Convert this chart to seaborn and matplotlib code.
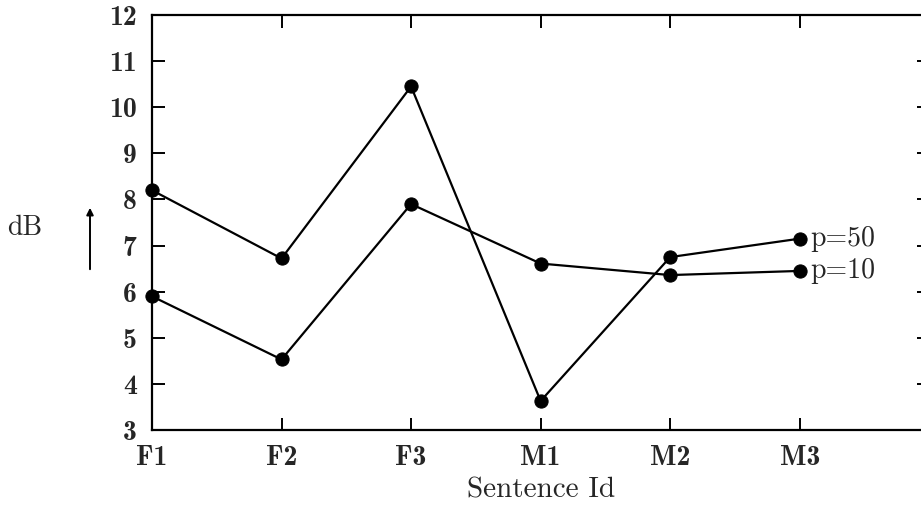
import matplotlib
matplotlib.use("Agg")
import matplotlib.pyplot as plt
import seaborn as sns
import pandas as pd

sentences = ["F1", "F2", "F3", "M1", "M2", "M3"]
db_p50 = [8.2, 6.72, 10.45, 3.63, 6.75, 7.15]
db_p10 = [5.9, 4.53, 7.9, 6.61, 6.36, 6.45]
series_labels = ["p=50", "p=10"]
y_ticks = [3, 4, 5, 6, 7, 8, 9, 10, 11, 12]

df = pd.DataFrame({
    "pos": list(range(len(sentences))) * 2,
    "dB": db_p50 + db_p10,
    "series": [series_labels[0]] * len(sentences) + [series_labels[1]] * len(sentences),
})

sns.set_style("white")
plt.rcParams["font.family"] = ["cmr10", "DejaVu Serif"]
plt.rcParams["axes.unicode_minus"] = False

fig = plt.figure(figsize=(9.21, 5.08), dpi=100)
ax = fig.add_axes([0.165, 0.1535, 0.844, 0.817])

sns.lineplot(data=df, x="pos", y="dB", hue="series", palette=["black", "black"],
             marker="o", markersize=9.5, markeredgecolor="black", linewidth=1.6,
             legend=False, ax=ax, clip_on=False)

ax.set_xlim(0, 6)
ax.set_ylim(3, 12)
ax.set_xticks(range(len(sentences)))
ax.set_xticklabels(sentences)
ax.set_yticks(y_ticks)
ax.set_yticklabels([str(t) for t in y_ticks])

for s in ax.spines.values():
    s.set_color("black")
    s.set_linewidth(1.6)
    s.set_visible(True)

ax.tick_params(axis="both", direction="in", length=9, width=1.4, color="black",
               top=True, right=True, bottom=True, left=True, labelsize=20)
ax.tick_params(axis="x", pad=11)
ax.tick_params(axis="y", pad=11)
for lbl in ax.get_xticklabels() + ax.get_yticklabels():
    lbl.set_fontfamily(["cmb10", "DejaVu Serif"])

ax.set_xlabel("Sentence Id", fontsize=21, labelpad=4)
ax.set_ylabel("")

# end-of-line labels at M3
ax.text(5 + 0.08, db_p50[-1], series_labels[0], fontsize=20, va="center", ha="left")
ax.text(5 + 0.08, db_p10[-1], series_labels[1], fontsize=20, va="center", ha="left")

# y-axis unit with upward arrow
fig.text(25 / 921, 1 - 228 / 508, "dB", fontsize=20, va="center", ha="center")
fig.add_artist(matplotlib.patches.FancyArrowPatch(
    (90 / 921, 1 - 272 / 508), (90 / 921, 1 - 205 / 508),
    transform=fig.transFigure, arrowstyle="-|>", mutation_scale=10,
    color="black", linewidth=1.4))

fig.savefig("out.png", dpi=100)
